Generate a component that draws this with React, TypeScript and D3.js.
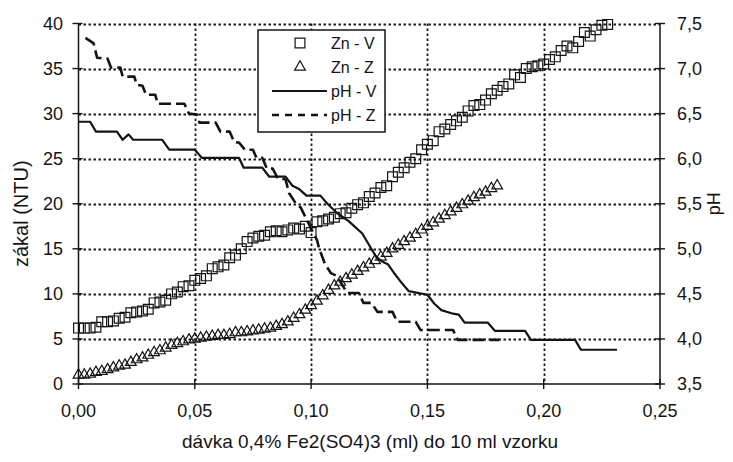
import React from 'react';
import * as d3 from 'd3';

// ---------- data ----------
const X_TICKS = [0, 0.05, 0.1, 0.15, 0.2, 0.25];
const X_TICK_LABELS = ['0,00', '0,05', '0,10', '0,15', '0,20', '0,25'];
const LEFT_TICKS = [0, 5, 10, 15, 20, 25, 30, 35, 40];
const LEFT_TICK_LABELS = ['0', '5', '10', '15', '20', '25', '30', '35', '40'];
const RIGHT_TICKS = [3.5, 4.0, 4.5, 5.0, 5.5, 6.0, 6.5, 7.0, 7.5];
const RIGHT_TICK_LABELS = ['3,5', '4,0', '4,5', '5,0', '5,5', '6,0', '6,5', '7,0', '7,5'];

const SERIES_NAMES = ['Zn - V', 'Zn - Z', 'pH - V', 'pH - Z'];

// Zn-V (squares, left axis)
const DOSE_V = [0, 0.0025, 0.005, 0.0075, 0.01, 0.0125, 0.015, 0.0175, 0.02, 0.0225, 0.025, 0.0275, 0.03, 0.0325, 0.035, 0.0375, 0.04, 0.0425, 0.045, 0.0475, 0.05, 0.0525, 0.055, 0.0575, 0.06, 0.0625, 0.065, 0.0675, 0.07, 0.0725, 0.075, 0.0775, 0.08, 0.0825, 0.085, 0.0875, 0.09, 0.0925, 0.095, 0.0975, 0.1, 0.1025, 0.105, 0.1075, 0.11, 0.1125, 0.115, 0.1175, 0.12, 0.1225, 0.125, 0.1275, 0.13, 0.1325, 0.135, 0.1375, 0.14, 0.1425, 0.145, 0.1475, 0.15, 0.1525, 0.155, 0.1575, 0.16, 0.1625, 0.165, 0.1675, 0.17, 0.1725, 0.175, 0.1775, 0.18, 0.1825, 0.185, 0.1875, 0.19, 0.1925, 0.195, 0.1975, 0.2, 0.2025, 0.205, 0.2075, 0.21, 0.2125, 0.215, 0.2175, 0.22, 0.2225, 0.225, 0.2275];
const ZN_V = [6.2, 6.2, 6.2, 6.3, 6.9, 6.9, 7.0, 7.3, 7.4, 7.9, 8.0, 8.1, 8.3, 9.0, 9.1, 9.3, 10.0, 10.2, 10.8, 10.9, 11.5, 11.7, 12.0, 12.8, 13.0, 13.2, 14.0, 14.3, 15.0, 15.8, 16.2, 16.4, 16.5, 16.9, 17.0, 16.9, 17.1, 17.3, 17.2, 17.5, 16.8, 18.0, 18.1, 18.3, 18.5, 18.9, 19.0, 19.5, 19.9, 20.1, 20.8, 21.2, 21.8, 22.0, 23.0, 23.5, 24.0, 24.6, 25.0, 26.0, 26.6, 27.0, 28.0, 28.3, 28.8, 29.2, 29.6, 30.3, 30.9, 31.0, 31.5, 32.2, 32.6, 33.0, 33.3, 34.3, 34.0, 35.0, 35.2, 35.3, 35.5, 36.0, 36.3, 37.0, 37.5, 37.3, 38.0, 39.0, 38.6, 39.3, 39.8, 39.9];

// Zn-Z (triangles, left axis)
const DOSE_Z = [0, 0.0025, 0.005, 0.0075, 0.01, 0.0125, 0.015, 0.0175, 0.02, 0.0225, 0.025, 0.0275, 0.03, 0.0325, 0.035, 0.0375, 0.04, 0.0425, 0.045, 0.0475, 0.05, 0.0525, 0.055, 0.0575, 0.06, 0.0625, 0.065, 0.0675, 0.07, 0.0725, 0.075, 0.0775, 0.08, 0.0825, 0.085, 0.0875, 0.09, 0.0925, 0.095, 0.0975, 0.1, 0.1025, 0.105, 0.1075, 0.11, 0.1125, 0.115, 0.1175, 0.12, 0.1225, 0.125, 0.1275, 0.13, 0.1325, 0.135, 0.1375, 0.14, 0.1425, 0.145, 0.1475, 0.15, 0.1525, 0.155, 0.1575, 0.16, 0.1625, 0.165, 0.1675, 0.17, 0.1725, 0.175, 0.1775, 0.18];
const ZN_Z = [1.0, 1.0, 1.1, 1.3, 1.4, 1.6, 1.8, 2.0, 2.1, 2.4, 2.7, 2.9, 3.2, 3.5, 3.7, 4.0, 4.3, 4.5, 4.7, 4.9, 5.0, 5.1, 5.2, 5.3, 5.4, 5.4, 5.5, 5.7, 5.7, 5.8, 5.9, 6.0, 6.1, 6.2, 6.4, 6.6, 6.9, 7.3, 7.7, 8.2, 8.7, 9.2, 9.8, 10.4, 10.9, 11.3, 11.7, 12.1, 12.5, 12.9, 13.3, 13.7, 14.1, 14.5, 15.0, 15.4, 15.8, 16.2, 16.6, 17.1, 17.5, 17.9, 18.3, 18.7, 19.1, 19.5, 19.9, 20.3, 20.7, 21.0, 21.3, 21.7, 22.0];

// pH-V (solid line, right axis)
const PHV_DOSE = [0, 0.005, 0.0075, 0.0165, 0.019, 0.0215, 0.0235, 0.036, 0.039, 0.05, 0.053, 0.069, 0.071, 0.079, 0.082, 0.089, 0.092, 0.095, 0.098, 0.104, 0.107, 0.111, 0.116, 0.119, 0.122, 0.125, 0.128, 0.1305, 0.133, 0.136, 0.139, 0.142, 0.15, 0.153, 0.156, 0.161, 0.1635, 0.166, 0.176, 0.179, 0.192, 0.1945, 0.2135, 0.216, 0.2315];
const PHV = [6.41, 6.41, 6.3, 6.3, 6.21, 6.27, 6.21, 6.21, 6.1, 6.1, 6.01, 6.01, 5.9, 5.9, 5.8, 5.8, 5.7, 5.66, 5.59, 5.59, 5.5, 5.4, 5.31, 5.24, 5.17, 5.04, 4.91, 4.86, 4.83, 4.72, 4.62, 4.53, 4.49, 4.39, 4.32, 4.28, 4.27, 4.18, 4.18, 4.09, 4.09, 3.99, 3.99, 3.88, 3.88];

// pH-Z (dashed line, right axis)
const PHZ_DOSE = [0.003, 0.0065, 0.008, 0.0125, 0.014, 0.018, 0.019, 0.024, 0.025, 0.0275, 0.029, 0.033, 0.034, 0.0455, 0.0475, 0.051, 0.052, 0.059, 0.061, 0.065, 0.067, 0.069, 0.0715, 0.075, 0.0765, 0.079, 0.081, 0.0835, 0.0855, 0.089, 0.0905, 0.0935, 0.0955, 0.0995, 0.1025, 0.1035, 0.106, 0.1085, 0.111, 0.1155, 0.1205, 0.1225, 0.126, 0.1285, 0.135, 0.137, 0.145, 0.147, 0.161, 0.163, 0.181];
const PHZ = [7.34, 7.28, 7.12, 7.11, 7.01, 7.01, 6.91, 6.91, 6.82, 6.81, 6.71, 6.71, 6.61, 6.61, 6.5, 6.49, 6.4, 6.4, 6.3, 6.3, 6.18, 6.18, 6.1, 6.1, 6.01, 6.01, 5.89, 5.89, 5.79, 5.77, 5.62, 5.5, 5.46, 5.25, 5.1, 5.0, 4.83, 4.73, 4.7, 4.51, 4.51, 4.4, 4.4, 4.3, 4.3, 4.19, 4.19, 4.1, 4.1, 3.99, 3.99];

// ---------- layout ----------
const W = 733;
const H = 462;
const PLOT = { left: 78.5, right: 660, top: 23.5, bottom: 384 };
const FONT = '"Liberation Sans", Arial, Helvetica, sans-serif';
const INK = '#141414';

export default function App() {
  const x = d3.scaleLinear().domain([0, 0.25]).range([PLOT.left, PLOT.right]);
  const yL = d3.scaleLinear().domain([0, 40]).range([PLOT.bottom, PLOT.top]);
  const yR = d3.scaleLinear().domain([3.5, 7.5]).range([PLOT.bottom, PLOT.top]);

  const phvPts: [number, number][] = PHV_DOSE.map((d, i) => [d, PHV[i]]);
  const phzPts: [number, number][] = PHZ_DOSE.map((d, i) => [d, PHZ[i]]);
  const line = d3
    .line<[number, number]>()
    .x((d) => x(d[0]))
    .y((d) => yR(d[1]));

  const square = d3.symbol(d3.symbolSquare, 96)()!;
  const triangle = d3.symbol(d3.symbolTriangle, 50)()!;

  // gridlines as one path each direction
  const hGrid = LEFT_TICKS.filter((t) => t > 0)
    .map((t) => `M${PLOT.left},${Math.round(yL(t)) + 0.5}H${PLOT.right}`)
    .join('');
  const vGrid = X_TICKS.filter((t) => t > 0 && t < 0.25)
    .map((t) => `M${Math.round(x(t)) + 0.5},${PLOT.top}V${PLOT.bottom}`)
    .join('');

  const legend = { x: 258, y: 30, w: 127, h: 102 };
  const rowY = [43, 67, 91, 115];

  return (
    <svg
      width={W}
      height={H}
      style={{ position: 'absolute', left: 0, top: 0, background: '#fff' }}
      fontFamily={FONT}
    >
      <rect x={0} y={0} width={W} height={H} fill="#fff" />

      {/* grid */}
      <path d={hGrid} fill="none" stroke="#1a1a1a" strokeWidth={1.8} strokeDasharray="2.5 2.5" />
      <path d={vGrid} fill="none" stroke="#1a1a1a" strokeWidth={1.8} strokeDasharray="2.5 2.5" />

      {/* axes */}
      <line x1={PLOT.left} x2={PLOT.left} y1={PLOT.top} y2={PLOT.bottom} stroke={INK} strokeWidth={1.5} />
      <line x1={PLOT.right} x2={PLOT.right} y1={PLOT.top} y2={PLOT.bottom} stroke={INK} strokeWidth={1.5} />
      <line x1={PLOT.left} x2={PLOT.right} y1={PLOT.bottom} y2={PLOT.bottom} stroke={INK} strokeWidth={1.5} />

      {/* left ticks + labels */}
      {LEFT_TICKS.map((t, i) => (
        <g key={'lt' + t}>
          <line x1={PLOT.left - 6} x2={PLOT.left + 4} y1={yL(t)} y2={yL(t)} stroke={INK} strokeWidth={1.4} />
          <text x={63} y={yL(t)} dy="0.36em" textAnchor="end" fontSize={18} fill={INK}>
            {LEFT_TICK_LABELS[i]}
          </text>
        </g>
      ))}
      {/* right ticks + labels */}
      {RIGHT_TICKS.map((t, i) => (
        <g key={'rt' + t}>
          <line x1={PLOT.right - 5} x2={PLOT.right + 5} y1={yR(t)} y2={yR(t)} stroke={INK} strokeWidth={1.4} />
          <text x={677} y={yR(t)} dy="0.36em" textAnchor="start" fontSize={18} fill={INK}>
            {RIGHT_TICK_LABELS[i]}
          </text>
        </g>
      ))}
      {/* bottom ticks + labels */}
      {X_TICKS.map((t, i) => (
        <g key={'xt' + t}>
          <line x1={x(t)} x2={x(t)} y1={PLOT.bottom - 5} y2={PLOT.bottom + 5} stroke={INK} strokeWidth={1.4} />
          <text x={x(t)} y={417} textAnchor="middle" fontSize={18} fill={INK}>
            {X_TICK_LABELS[i]}
          </text>
        </g>
      ))}

      {/* axis titles */}
      <text
        transform={`translate(28,${(PLOT.top + PLOT.bottom) / 2 + 10}) rotate(-90)`}
        textAnchor="middle"
        fontSize={20}
        fill={INK}
      >
        zákal (NTU)
      </text>
      <text
        transform={`translate(720,${(PLOT.top + PLOT.bottom) / 2}) rotate(-90)`}
        textAnchor="middle"
        fontSize={18}
        fill={INK}
      >
        pH
      </text>
      <text x={370} y={448} textAnchor="middle" fontSize={19} fill={INK}>
        dávka 0,4% Fe2(SO4)3 (ml) do 10 ml vzorku
      </text>

      {/* pH lines */}
      <path d={line(phvPts)!} fill="none" stroke={INK} strokeWidth={2.2} strokeLinejoin="round" />
      <path
        d={line(phzPts)!}
        fill="none"
        stroke={INK}
        strokeWidth={2.6}
        strokeDasharray="12,5"
        strokeLinejoin="round"
      />

      {/* Zn-V squares */}
      {DOSE_V.map((d, i) => (
        <path
          key={'sq' + i}
          d={square}
          transform={`translate(${x(d)},${yL(ZN_V[i])})`}
          fill="none"
          stroke={INK}
          strokeWidth={1.2}
        />
      ))}
      {/* Zn-Z triangles */}
      {DOSE_Z.map((d, i) => (
        <path
          key={'tr' + i}
          d={triangle}
          transform={`translate(${x(d)},${yL(ZN_Z[i])})`}
          fill="none"
          stroke={INK}
          strokeWidth={1.2}
        />
      ))}

      {/* legend */}
      <rect x={legend.x} y={legend.y} width={legend.w} height={legend.h} fill="#fff" stroke={INK} strokeWidth={1.5} />
      <path d={square} transform={`translate(300,${rowY[0]})`} fill="none" stroke={INK} strokeWidth={1.2} />
      <path d={triangle} transform={`translate(300,${rowY[1]})`} fill="none" stroke={INK} strokeWidth={1.2} />
      <line x1={272} x2={327} y1={rowY[2]} y2={rowY[2]} stroke={INK} strokeWidth={2} />
      <line x1={272} x2={327} y1={rowY[3]} y2={rowY[3]} stroke={INK} strokeWidth={2.4} strokeDasharray="7,6" />
      {SERIES_NAMES.map((n, i) => (
        <text key={n} x={331} y={rowY[i]} dy="0.36em" fontSize={16} fill={INK}>
          {n}
        </text>
      ))}
    </svg>
  );
}
